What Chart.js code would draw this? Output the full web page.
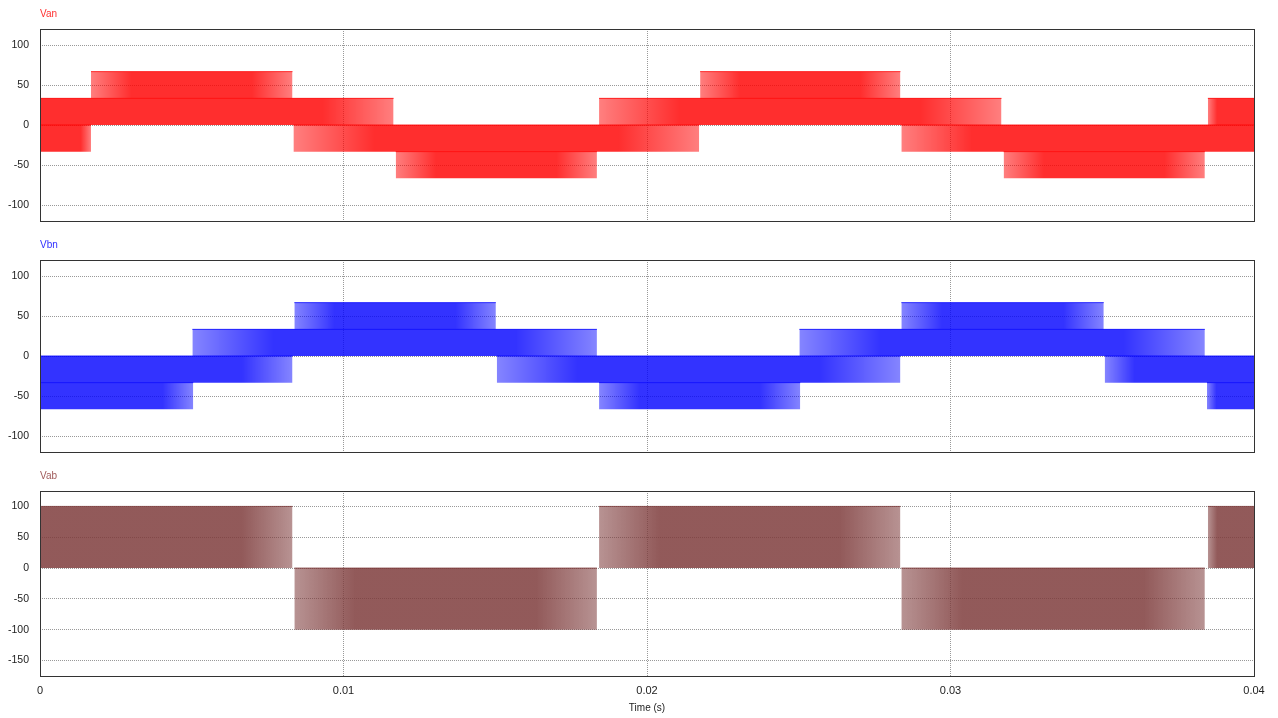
<!DOCTYPE html>
<html>
<head>
<meta charset="utf-8">
<script src="https://cdn.jsdelivr.net/npm/chart.js@4.4.1/dist/chart.umd.min.js"></script>
<style>
    body { margin: 0; background: #fff; }
    canvas { position: absolute; left: 0; }
</style>
</head>
<body>
<canvas id="canvaVan" width="1278" height="230" style="top:0px"></canvas>
<canvas id="canvaVbn" width="1278" height="230" style="top:230px"></canvas>
<canvas id="canvaVab" width="1278" height="258" style="top:460px"></canvas>
<script>
// ticks
const tiempos = [0, 0.01, 0.02, 0.03, 0.04];
const ticksFase = [-100, -50, 0, 50, 100];
const ticksLinea = [-150, -100, -50, 0, 50, 100];

// Van: bandas de conmutacion (inicio, fin, nivel bajo, nivel alto)
const vanInicio = [0, 0.00168, 0, 0.00835, 0.01172, 0.01842, 0.02175, 0.02838, 0.03175, 0.03848];
const vanFin    = [0.01165, 0.00832, 0.00168, 0.02172, 0.01835, 0.03168, 0.02835, 0.04, 0.03838, 0.04];
const vanBajo   = [0, 33.3, -33.3, -33.3, -66.7, 0, 33.3, -33.3, -66.7, 0];
const vanAlto   = [33.3, 66.7, 0, 0, -33.3, 33.3, 66.7, 0, -33.3, 33.3];

// Vbn
const vbnInicio = [0, 0, 0.00502, 0.00838, 0.01505, 0.01842, 0.02502, 0.02838, 0.03508, 0.03845];
const vbnFin    = [0.00505, 0.00832, 0.01835, 0.01502, 0.02835, 0.02505, 0.03838, 0.03505, 0.04, 0.04];
const vbnBajo   = [-66.7, -33.3, 0, 33.3, -33.3, -66.7, 0, 33.3, -33.3, -66.7];
const vbnAlto   = [-33.3, 0, 33.3, 66.7, 0, -33.3, 33.3, 66.7, 0, -33.3];

// Vab
const vabInicio = [0, 0.00838, 0.01842, 0.02838, 0.03848];
const vabFin    = [0.00832, 0.01835, 0.02835, 0.03838, 0.04];
const vabBajo   = [0, -100, 0, -100, 0];
const vabAlto   = [100, 0, 100, 0, 100];

const fuente = "'Liberation Sans', Arial, sans-serif";
let graficos = {};

const marco = {
    id: 'marco',
    afterDraw(chart) {
        const { ctx, chartArea: a } = chart;
        ctx.save();
        ctx.strokeStyle = '#333';
        ctx.lineWidth = 1;
        ctx.strokeRect(a.left + 0.5, a.top + 0.5, a.right - a.left, a.bottom - a.top);
        ctx.restore();
    }
};

// zonas de conmutacion poco densa en los extremos de cada banda -> mas claras
function relleno(denso, claro, t0, t1) {
    return (context) => {
        const chart = context.chart;
        if (!chart.chartArea) return denso;
        const x = chart.scales.x;
        const p0 = x.getPixelForValue(t0);
        const p1 = x.getPixelForValue(t1);
        const g = chart.ctx.createLinearGradient(p0, 0, p1, 0);
        g.addColorStop(0, t0 > 0 ? claro : denso);
        g.addColorStop(0.2, denso);
        g.addColorStop(0.8, denso);
        g.addColorStop(1, t1 < 0.04 ? claro : denso);
        return g;
    };
}

function bandas(inicio, fin, bajo, alto, denso, claro) {
    return inicio.map((t0, i) => ({
        data: [{ x: t0, y: alto[i] }, { x: fin[i], y: alto[i] }],
        fill: { value: bajo[i] },
        backgroundColor: relleno(denso, claro, t0, fin[i]),
        borderColor: denso,
        borderWidth: 1,
        pointRadius: 0
    }));
}

function crearGrafico(elementoID, titulo, colorTitulo, datasets, opciones) {
    const canvas = document.getElementById(elementoID).getContext('2d');
    const ultimo = opciones.ejeX || false;
    graficos[elementoID] = new Chart(canvas, {
        type: 'line',
        data: { datasets: datasets },
        plugins: [marco],
        options: {
            responsive: false,
            animation: false,
            layout: { padding: { right: 24 } },
            plugins: {
                legend: { display: false },
                tooltip: { enabled: false },
                title: {
                    display: true,
                    text: titulo,
                    align: 'start',
                    fullSize: false,
                    color: colorTitulo,
                    font: { family: fuente, size: 10, weight: 'normal' },
                    padding: opciones.padTitulo
                }
            },
            scales: {
                x: {
                    type: 'linear',
                    min: 0,
                    max: 0.04,
                    afterBuildTicks: s => { s.ticks = tiempos.map(v => ({ value: v })); },
                    afterFit: s => { s.height = opciones.altoX; },
                    grid: { color: '#999', drawTicks: false },
                    border: { display: false, dash: [1, 1] },
                    ticks: {
                        display: ultimo,
                        padding: 8,
                        color: '#222',
                        font: { family: fuente, size: 11 },
                        maxRotation: 0,
                        callback: v => String(v)
                    },
                    title: {
                        display: ultimo,
                        text: 'Time (s)',
                        color: '#222',
                        font: { family: fuente, size: 10 },
                        padding: { top: 4, bottom: 4 }
                    }
                },
                y: {
                    min: opciones.min,
                    max: opciones.max,
                    afterBuildTicks: s => { s.ticks = opciones.ticks.map(v => ({ value: v })); },
                    afterFit: s => { s.width = 40; s.paddingTop = 0; s.paddingBottom = 0; },
                    grid: { color: '#999', drawTicks: false },
                    border: { display: false, dash: [1, 1] },
                    ticks: {
                        padding: 11,
                        color: '#222',
                        font: { family: fuente, size: 10.5 },
                        callback: v => String(v)
                    }
                }
            }
        }
    });
}

window.addEventListener('DOMContentLoaded', () => {
    crearGrafico('canvaVan', 'Van', '#ff3030',
        bandas(vanInicio, vanFin, vanBajo, vanAlto, 'rgba(255,0,0,0.82)', 'rgba(255,0,0,0.5)'),
        { min: -120, max: 120, ticks: ticksFase, altoX: 9, padTitulo: { top: 8, bottom: 9 } });
    crearGrafico('canvaVbn', 'Vbn', '#3030ff',
        bandas(vbnInicio, vbnFin, vbnBajo, vbnAlto, 'rgba(0,0,255,0.8)', 'rgba(0,0,255,0.48)'),
        { min: -120, max: 120, ticks: ticksFase, altoX: 8, padTitulo: { top: 9, bottom: 9 } });
    crearGrafico('canvaVab', 'Vab', '#a05a5a',
        bandas(vabInicio, vabFin, vabBajo, vabAlto, 'rgba(125,58,58,0.84)', 'rgba(125,58,58,0.55)'),
        { min: -175, max: 125, ticks: ticksLinea, altoX: 42, padTitulo: { top: 10, bottom: 9 }, ejeX: true });
});
</script>
</body>
</html>
